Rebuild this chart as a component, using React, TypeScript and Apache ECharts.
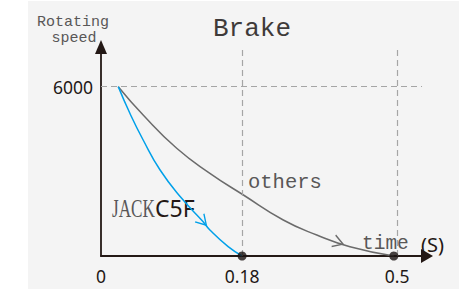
import React, { useEffect, useRef } from "react";
import * as echarts from "echarts";

// schematic x-axis units (0..98.2), y in rpm
const xTickPos = [0, 42.5, 89.2];
const xTickLabels = ["0", "0.18", "0.5"];
const yTickValues = [6000];
const guideTop = 7299;
const guideRight = 96.7;

const jackX = [5.2, 8.7, 12.7, 17.8, 24.3, 30.7, 32.8, 38.3, 42.5];
const jackY = [6000, 5056, 4110, 3047, 2044, 1222, 921, 330, 0];
const othersX = [5.2, 12.7, 22.8, 32.8, 42.9, 54.9, 65.0, 75.0, 88.2];
const othersY = [6000, 4996, 3816, 2930, 2161, 1276, 744, 330, 0];

const jackArrow = [30.7, 1222];
const othersArrow = [71.5, 480];

const X_MAX = 98.2;
const Y_MAX = 7405;

const BLUE = "#00a0e9";
const GRAY = "#6b6b6b";
const DARK = "#231815";

const chevron = "path://M0,0 L10,5 L0,10";

export default function App() {
  const ref = useRef<HTMLDivElement>(null);
  useEffect(() => {
    if (!ref.current) return;
    const chart = echarts.init(ref.current, undefined, { renderer: "svg" });
    const jackData = jackX.map((x, i) => [x, jackY[i]]);
    const othersData = othersX.map((x, i) => [x, othersY[i]]);
    const nearestLabel = (v: number) => {
      let best = 0;
      xTickPos.forEach((p, i) => {
        if (Math.abs(p - v) < Math.abs(xTickPos[best] - v)) best = i;
      });
      return xTickLabels[best];
    };
    chart.setOption({
      animation: false,
      backgroundColor: "#ffffff",
      grid: { left: 101, right: 32, top: 47, bottom: 33 },
      xAxis: {
        type: "value",
        min: 0,
        max: X_MAX,
        splitLine: { show: false },
        axisTick: { show: false },
        axisLine: {
          show: true,
          onZero: false,
          symbol: ["none", "triangle"],
          symbolSize: [14, 12],
          lineStyle: { color: DARK, width: 1.8 },
        },
        axisLabel: {
          customValues: xTickPos,
          formatter: (v: number) => nearestLabel(v),
          fontSize: 17.5,
          fontFamily: "Noto Sans",
          color: DARK,
          margin: 11,
        },
      },
      yAxis: {
        type: "value",
        min: 0,
        max: Y_MAX,
        splitLine: { show: false },
        axisTick: { show: false },
        axisLine: {
          show: true,
          onZero: false,
          symbol: ["none", "triangle"],
          symbolSize: [12, 14],
          lineStyle: { color: DARK, width: 1.8 },
        },
        axisLabel: {
          customValues: yTickValues,
          formatter: (v: number) => String(v),
          fontSize: 17.5,
          fontFamily: "Noto Sans",
          color: DARK,
          margin: 8,
        },
      },
      graphic: [
        {
          type: "rect",
          z: -100,
          silent: true,
          shape: { x: 28, y: 1, width: 431, height: 288 },
          style: { fill: "#f4f4f4" },
        },
        {
          type: "text",
          x: 73,
          y: 22.5,
          style: {
            text: "Rotating",
            font: "15px 'Liberation Mono'",
            fill: "#595757",
            textAlign: "center",
            textVerticalAlign: "middle",
          },
        },
        {
          type: "text",
          x: 74,
          y: 38.5,
          style: {
            text: "speed",
            font: "15px 'Liberation Mono'",
            fill: "#595757",
            textAlign: "center",
            textVerticalAlign: "middle",
          },
        },
        {
          type: "text",
          x: 252,
          y: 29,
          style: {
            text: "Brake",
            font: "26px 'Liberation Mono'",
            fill: "#3e3a39",
            textAlign: "center",
            textVerticalAlign: "middle",
          },
        },
        {
          type: "text",
          x: 248,
          y: 182,
          style: {
            text: "others",
            font: "20.5px 'Liberation Mono'",
            fill: "#595757",
            textAlign: "left",
            textVerticalAlign: "middle",
          },
        },
        {
          type: "text",
          x: 362,
          y: 244,
          style: {
            text: "time",
            font: "19.5px 'Liberation Mono'",
            fill: "#595757",
            textAlign: "left",
            textVerticalAlign: "middle",
          },
        },
        {
          type: "text",
          x: 421,
          y: 244,
          style: {
            text: "(S)",
            font: "20px 'Noto Sans'",
            fill: DARK,
            textAlign: "left",
            textVerticalAlign: "middle",
          },
        },
        {
          type: "text",
          x: 112,
          y: 208,
          scaleX: 0.66,
          style: {
            text: "JACK",
            font: "26px 'Liberation Serif'",
            fill: "#595757",
            textAlign: "left",
            textVerticalAlign: "middle",
          },
        },
        {
          type: "text",
          x: 155,
          y: 208,
          style: {
            text: "C5F",
            font: "23px 'Noto Sans'",
            fill: DARK,
            textAlign: "left",
            textVerticalAlign: "middle",
          },
        },
      ],
      series: [
        {
          type: "line",
          data: othersData,
          smooth: 0.5,
          showSymbol: false,
          symbol: "none",
          lineStyle: { color: GRAY, width: 1.5 },
          z: 3,
          markLine: {
            silent: true,
            symbol: ["none", "none"],
            label: { show: false },
            lineStyle: { type: [6, 4], color: "#a5a5a5", width: 1.2 },
            data: [
              [{ coord: [0, yTickValues[0]] }, { coord: [guideRight, yTickValues[0]] }],
              [{ coord: [xTickPos[1], 0] }, { coord: [xTickPos[1], guideTop] }],
              [{ coord: [xTickPos[2], 0] }, { coord: [xTickPos[2], guideTop] }],
            ],
          },
          markPoint: {
            silent: true,
            symbol: chevron,
            symbolSize: [10, 12],
            symbolRotate: -19.5,
            label: { show: false },
            itemStyle: { color: "transparent", borderColor: GRAY, borderWidth: 1.3 },
            data: [{ coord: othersArrow }],
          },
        },
        {
          type: "line",
          data: jackData,
          smooth: 0.5,
          showSymbol: false,
          symbol: "none",
          lineStyle: { color: BLUE, width: 1.5 },
          z: 4,
          markPoint: {
            silent: true,
            symbol: chevron,
            symbolSize: [10, 12],
            symbolRotate: -47,
            label: { show: false },
            itemStyle: { color: "transparent", borderColor: BLUE, borderWidth: 1.3 },
            data: [{ coord: jackArrow }],
          },
        },
        {
          type: "scatter",
          data: [
            [jackX[jackX.length - 1], 0],
            [othersX[othersX.length - 1], 0],
          ],
          symbol: "circle",
          symbolSize: 9,
          itemStyle: { color: "#1a1311" },
          z: 10,
          clip: false,
        },
      ],
    });
    return () => chart.dispose();
  }, []);
  return (
    <div
      ref={ref}
      style={{ position: "fixed", left: 0, top: 0, width: 459, height: 289 }}
    />
  );
}
